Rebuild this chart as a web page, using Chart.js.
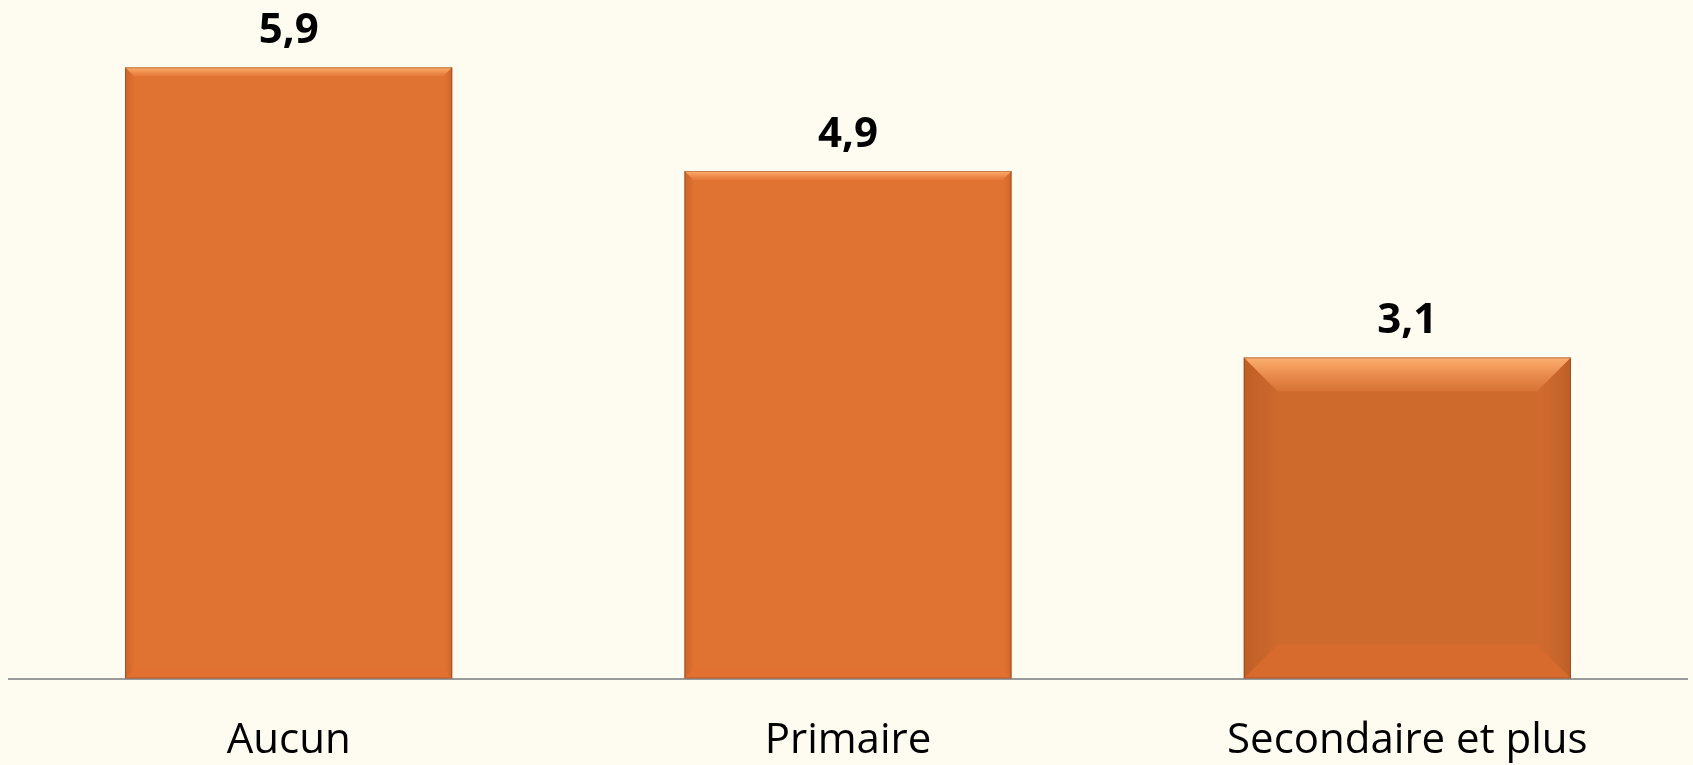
<!DOCTYPE html>
<html><head><meta charset="utf-8">
<script src="https://cdn.jsdelivr.net/npm/chart.js@4"></script>
<style>html,body{margin:0;padding:0;background:#FEFCF1;overflow:hidden;}#wrap{width:1693px;height:765px;position:relative;overflow:hidden;}</style>
</head><body><div id="wrap"><canvas id="c" width="1693" height="803"></canvas></div>
<script>
const categories = ["Aucun", "Primaire", "Secondaire et plus"];
const values = [5.9, 4.9, 3.1];
const valueLabels = ["5,9", "4,9", "3,1"];

const barColors = ["#E07232", "#E07232", "#CF6A2D"];
const bevelSizes = [9, 9, 34];

const bevelPlugin = {
  id: 'bevel',
  afterDatasetsDraw(chart) {
    const ctx = chart.ctx;
    const meta = chart.getDatasetMeta(0);
    meta.data.forEach((bar, i) => {
      const l = bar.x - bar.width / 2, r = bar.x + bar.width / 2, t = bar.y, b = bar.base;
      const s = bevelSizes[i];
      ctx.save();
      // top bevel (light)
      let g = ctx.createLinearGradient(0, t, 0, t + s);
      g.addColorStop(0, 'rgba(255,180,115,0.95)');
      g.addColorStop(1, 'rgba(255,160,95,0.15)');
      ctx.fillStyle = g;
      ctx.beginPath(); ctx.moveTo(l, t); ctx.lineTo(r, t); ctx.lineTo(r - s, t + s); ctx.lineTo(l + s, t + s); ctx.closePath(); ctx.fill();
      // left bevel
      g = ctx.createLinearGradient(l, 0, l + s, 0);
      g.addColorStop(0, 'rgba(150,65,20,0.28)');
      g.addColorStop(1, 'rgba(150,65,20,0.02)');
      ctx.fillStyle = g;
      ctx.beginPath(); ctx.moveTo(l, t); ctx.lineTo(l + s, t + s); ctx.lineTo(l + s, b - s); ctx.lineTo(l, b); ctx.closePath(); ctx.fill();
      // right bevel
      g = ctx.createLinearGradient(r - s, 0, r, 0);
      g.addColorStop(0, 'rgba(230,110,45,0.05)');
      g.addColorStop(1, 'rgba(120,50,15,0.22)');
      ctx.fillStyle = g;
      ctx.beginPath(); ctx.moveTo(r, t); ctx.lineTo(r - s, t + s); ctx.lineTo(r - s, b - s); ctx.lineTo(r, b); ctx.closePath(); ctx.fill();
      // bottom bevel
      ctx.fillStyle = 'rgba(230,110,45,0.35)';
      ctx.beginPath(); ctx.moveTo(l, b); ctx.lineTo(l + s, b - s); ctx.lineTo(r - s, b - s); ctx.lineTo(r, b); ctx.closePath(); ctx.fill();
      // edge
      ctx.strokeStyle = 'rgba(90,40,15,0.35)';
      ctx.lineWidth = 1;
      ctx.strokeRect(l + 0.5, t + 0.5, r - l - 1, b - t - 1);
      ctx.restore();
      // value label
      ctx.save();
      ctx.fillStyle = '#000';
      ctx.font = 'bold 42px "Open Sans", "Liberation Sans", sans-serif';
      ctx.textAlign = 'center';
      ctx.textBaseline = 'alphabetic';
      ctx.fillText(valueLabels[i], bar.x, t - 24);
      ctx.restore();
    });
  }
};

new Chart(document.getElementById('c'), {
  type: 'bar',
  data: {
    labels: categories,
    datasets: [{
      data: values,
      backgroundColor: barColors,
      borderWidth: 0,
      barPercentage: 0.585,
      categoryPercentage: 1.0
    }]
  },
  options: {
    responsive: false,
    animation: false,
    layout: { padding: { top: 57, left: 9, right: 6, bottom: 0 } },
    plugins: { legend: { display: false }, tooltip: { enabled: false } },
    scales: {
      x: {
        grid: { display: false, drawTicks: false },
        border: { display: true, color: '#9A9A9A', width: 2 },
        ticks: { color: '#000', padding: 37, font: { size: 42, family: '"Open Sans", "Liberation Sans", sans-serif' } }
      },
      y: { display: false, min: 0, max: 6 }
    }
  },
  plugins: [bevelPlugin]
});
</script>
</body></html>
